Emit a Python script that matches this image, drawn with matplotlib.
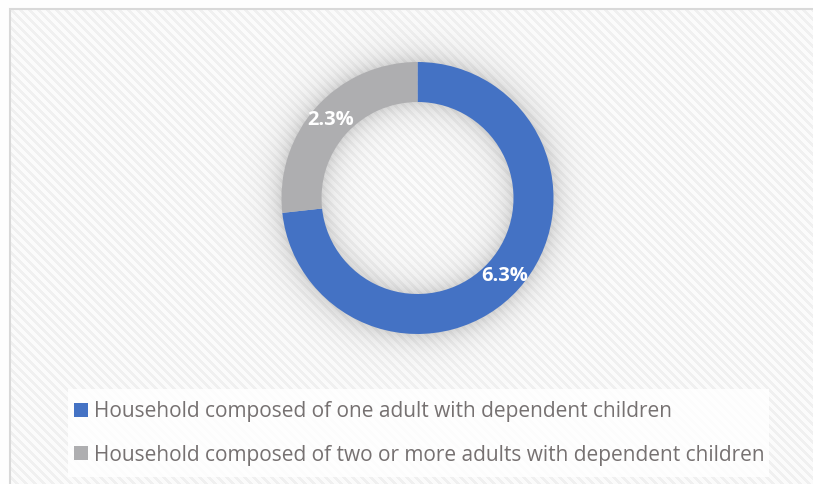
import numpy as np
import matplotlib
matplotlib.use("Agg")
import matplotlib.pyplot as plt
from matplotlib.patches import Rectangle

# Data
categories = [
    "Household composed of one adult with dependent children",
    "Household composed of two or more adults with dependent children",
]
values = [6.3, 2.3]
colors = ["#4472C4", "#AEAEB0"]

W, H = 813, 484
fig = plt.figure(figsize=(W / 100, H / 100), dpi=100)

# Donut geometry in pixels
cx, cy = 417.5, 198.0
R_out, R_in = 136.0, 96.0

# Background: striped chart area with a soft glow around the ring
bg = fig.add_axes([0, 0, 1, 1])
bg.set_axis_off()
yy, xx = np.mgrid[0:H, 0:W] + 0.5
stripes = np.where(((xx - yy) % 9) < 4, 0.945, 0.985)
base = np.where((xx >= 10) & (yy >= 9), stripes, 1.0)
dist = np.hypot(xx - cx, yy - cy)
d = np.maximum(np.maximum(dist - R_out, R_in - dist), 0)
shadow = 0.15 * np.exp(-d / 13.0)
img = base * (1 - shadow)
bg.imshow(np.dstack([img, img, img]), extent=(0, W, H, 0), interpolation="nearest")
bg.plot([10, 10, W + 5], [H + 5, 9, 9], color="#d9d9d9", lw=1.5, solid_joinstyle="miter")
# white panel behind the legend
bg.add_patch(Rectangle((68, 389), 701, 88, facecolor="white", edgecolor="none", alpha=0.85))
bg.set_xlim(0, W)
bg.set_ylim(H, 0)

# Donut
pad = 1.05
L = R_out * pad
ax = fig.add_axes([(cx - L) / W, 1 - (cy + L) / H, 2 * L / W, 2 * L / H])
total = sum(values)
wedges, texts, autotexts = ax.pie(
    values,
    colors=colors,
    startangle=90,
    counterclock=False,
    radius=1.0,
    wedgeprops=dict(width=(R_out - R_in) / R_out, edgecolor="none"),
    autopct=lambda p: f"{p * total / 100:.1f}%",
    pctdistance=0.86,
    textprops=dict(color="white", fontweight="bold", fontsize=14.5, family="Open Sans"),
)
ax.set_xlim(-pad, pad)
ax.set_ylim(-pad, pad)
ax.set_aspect("equal")
ax.patch.set_alpha(0)

# Legend
leg = fig.legend(
    wedges,
    categories,
    loc="center left",
    bbox_to_anchor=(74 / W, 1 - 433.5 / H),
    frameon=False,
    prop=dict(family="Open Sans", size=15),
    labelcolor="#767171",
    handlelength=0.65,
    handleheight=0.65,
    handletextpad=0.3,
    labelspacing=1.06,
    borderpad=0,
    borderaxespad=0,
)

fig.savefig("out.png", dpi=100)
